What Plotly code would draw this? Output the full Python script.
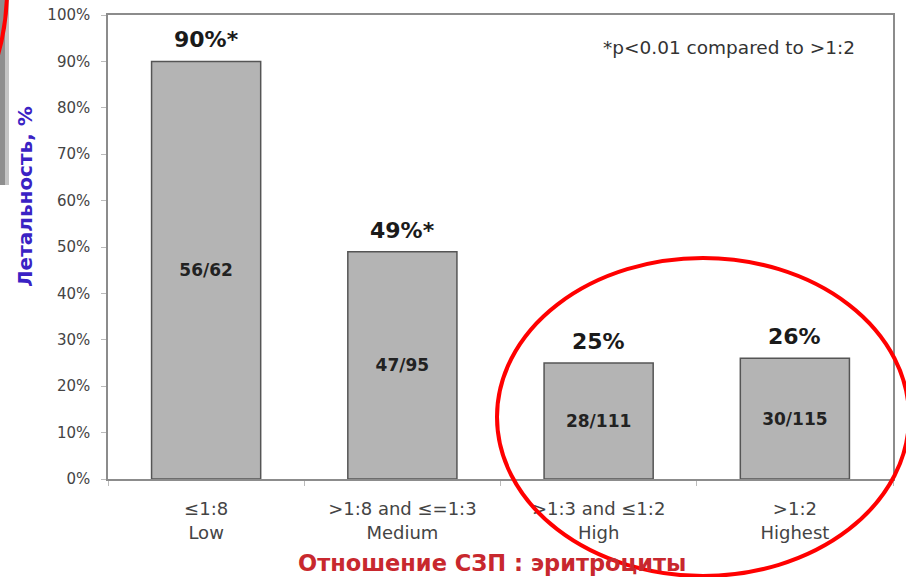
import plotly.graph_objects as go

# ---- data ----
categories = ["≤1:8<br>Low", ">1:8 and ≤=1:3<br>Medium", ">1:3 and ≤1:2<br>High", ">1:2<br>Highest"]
mortality = [0.90, 0.49, 0.25, 0.26]
fractions = ["56/62", "47/95", "28/111", "30/115"]
top_labels = ["90%*", "49%*", "25%", "26%"]
y_ticks = [0, 0.1, 0.2, 0.3, 0.4, 0.5, 0.6, 0.7, 0.8, 0.9, 1.0]
y_tick_text = ["0%", "10%", "20%", "30%", "40%", "50%", "60%", "70%", "80%", "90%", "100%"]

W, H = 906, 577
L, R, T, B = 108, 13, 15, 98
PW, PH = W - L - R, H - T - B

def px(x):
    return (x - L) / PW

def py(y):
    return (H - B - y) / PH

FONT = "DejaVu Sans"

fig = go.Figure()
fig.add_trace(go.Bar(
    x=categories,
    y=mortality,
    text=fractions,
    textposition="inside",
    insidetextanchor="middle",
    textfont=dict(family=FONT, size=17, color="#222222", weight="bold"),
    marker=dict(color="#b4b4b4", line=dict(color="#555555", width=1.5)),
    width=0.556,
    hoverinfo="skip",
))

annotations = []
for c, v, t in zip(categories, mortality, top_labels):
    annotations.append(dict(
        x=c, y=v, xref="x", yref="y", text=t, showarrow=False,
        xanchor="center", yanchor="bottom", yshift=7,
        font=dict(family=FONT, size=22, color="#1a1a1a", weight="bold"),
    ))

annotations.append(dict(
    x=px(729), y=py(47), xref="paper", yref="paper",
    xanchor="center", yanchor="middle",
    text="*p<0.01 compared to >1:2", showarrow=False,
    font=dict(family=FONT, size=18.5, color="#333333"),
))
annotations.append(dict(
    x=px(492), y=py(563), xref="paper", yref="paper",
    xanchor="center", yanchor="middle",
    text="Отношение СЗП : эритроциты", showarrow=False,
    font=dict(family=FONT, size=22.5, color="#c8282e", weight="bold"),
))
annotations.append(dict(
    x=px(25), y=py(197), xref="paper", yref="paper",
    xanchor="center", yanchor="middle",
    text="Летальность, %", showarrow=False, textangle=-90,
    font=dict(family=FONT, size=20, color="#3a22c4", weight="bold"),
))

shapes = [
    # gray strip at left edge
    dict(type="rect", xref="paper", yref="paper",
         x0=px(0), x1=px(5), y0=py(185), y1=py(0),
         fillcolor="#8e8e8e", line=dict(width=0), layer="above"),
    dict(type="rect", xref="paper", yref="paper",
         x0=px(5), x1=px(9), y0=py(185), y1=py(0),
         fillcolor="#c4c4c4", line=dict(width=0), layer="above"),
    # red arc top-left
    dict(type="circle", xref="paper", yref="paper",
         x0=px(-471), x1=px(7), y0=py(229), y1=py(-249),
         line=dict(color="#ff0000", width=4), fillcolor="rgba(0,0,0,0)", layer="above"),
    # red ellipse around right bars
    dict(type="circle", xref="paper", yref="paper",
         x0=px(497), x1=px(909), y0=py(576), y1=py(258),
         line=dict(color="#ff0000", width=4), fillcolor="rgba(0,0,0,0)", layer="above"),
]

fig.update_layout(
    width=W, height=H,
    margin=dict(l=L, r=R, t=T, b=B, pad=0, autoexpand=False),
    paper_bgcolor="white",
    plot_bgcolor="white",
    showlegend=False,
    bargap=0.444,
    annotations=annotations,
    shapes=shapes,
    font=dict(family=FONT, color="#444444"),
)
fig.update_xaxes(
    automargin=False,
    showline=True, linecolor="#8c8c8c", linewidth=1.5, mirror=True,
    ticks="outside", tickson="boundaries", ticklen=5, tickcolor="#bbbbbb",
    tickfont=dict(family=FONT, size=18, color="#444444"),
    ticklabelstandoff=13,
    showgrid=False,
)
fig.update_yaxes(
    automargin=False,
    range=[0, 1.0], tickvals=y_ticks, ticktext=y_tick_text,
    showline=True, linecolor="#8c8c8c", linewidth=1.5, mirror=True,
    ticks="outside", ticklen=5, tickcolor="#bbbbbb",
    tickfont=dict(family=FONT, size=15, color="#444444"),
    ticklabelstandoff=8,
    showgrid=False, zeroline=False,
)

fig.write_html("out.html", config={"displayModeBar": False},
               post_script="document.body.style.margin='0px';")
